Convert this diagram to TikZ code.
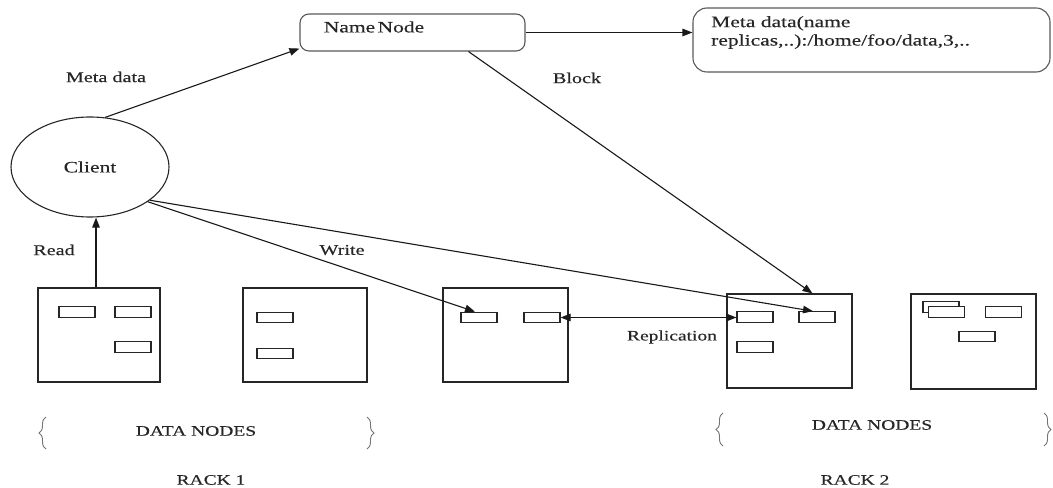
\documentclass[tikz,border=0pt]{standalone}
\usepackage{fontspec}
\setmainfont{Liberation Serif}[FakeStretch=1.35, FakeBold=0.3]
\usetikzlibrary{arrows.meta,shapes.geometric,decorations.pathreplacing}

\begin{document}
\begin{tikzpicture}[x=1bp,y=-1bp,
  ink/.style={draw=black!85, line width=1.1bp},
  server/.style={ink, rectangle, inner sep=0, minimum width=124bp, minimum height=94bp},
  blk/.style={ink, rectangle, inner sep=0, minimum width=36bp, minimum height=10.5bp, fill=white},
  rbox/.style={draw=black!65, line width=1.1bp, rounded corners=9bp, inner sep=0},
  lbl/.style={inner sep=0, text=black!85, font=\fontsize{15}{18}\selectfont},
  big/.style={inner sep=0, text=black!85, font=\fontsize{16}{19}\selectfont},
  small/.style={inner sep=0, text=black!85, font=\fontsize{14.5}{17}\selectfont},
  conn/.style={line width=1.1bp, draw=black!90, -{Triangle[length=10bp,width=7.5bp]}},
  biconn/.style={line width=1.1bp, draw=black!90, {Triangle[length=10bp,width=7.5bp]}-{Triangle[length=10bp,width=7.5bp]}},
  brc/.style={draw=black!55, line width=0.9bp, decorate, decoration={brace, amplitude=7bp}}
]
\useasboundingbox (0,0) rectangle (1053,488);

% name node and its metadata table
\node[rbox, minimum width=225bp, minimum height=37bp] (nn) at (412.5,32.5) {};
\node[big] (nntxt) at (374,27) {Name\hspace{0.15em}Node};
\node[rbox, minimum width=357bp, minimum height=64bp, rounded corners=14bp] (meta) at (871.5,40) {};
\node[big, anchor=west, align=left, font=\fontsize{16}{18.5}\selectfont] (metatxt) at (711,32.5)
  {Meta data(name\\replicas,..):/home/foo/data,3,..};

% client
\node[ink, ellipse, minimum width=158bp, minimum height=100bp, inner sep=0,
      font=\fontsize{16}{19}\selectfont, text=black!85] (client) at (90,167) {Client};

% data node servers, rack 1
\node[server, minimum width=122bp] (dn1) at (99,335) {};
\node[server] (dn2) at (305,335) {};
\node[server, minimum width=125bp] (dn3) at (505.5,335) {};
% data node servers, rack 2
\node[server, minimum width=125bp] (dn4) at (789.5,341) {};
\node[server, minimum width=125bp, minimum height=95bp] (dn5) at (973.5,341.5) {};

% blocks held by each server
\node[blk] (b11) at (77,312) {};
\node[blk] (b12) at (133,312) {};
\node[blk] (b13) at (133,347) {};
\node[blk] (b21) at (275,317.5) {};
\node[blk] (b22) at (275,353.5) {};
\node[blk] (b31) at (479,317.5) {};
\node[blk] (b32) at (542,317.5) {};
\node[blk] (b41) at (755,317) {};
\node[blk] (b42) at (817,317) {};
\node[blk] (b43) at (755,347) {};
\node[blk] (b51) at (941,307) {};
\node[blk] (b52) at (946.5,312) {};
\node[blk] (b53) at (1003.5,312) {};
\node[blk] (b54) at (977,336.5) {};

% connectors
\draw[conn] (client.73) -- ([yshift=3bp]nn.south west);
\draw[conn] (nn.east) -- (nn.east -| meta.west);
\draw[conn] ([xshift=56bp]nn.south) -- ([xshift=23bp]dn4.north);
\draw[conn] ([xshift=-3bp]dn1.north) -- ([xshift=-3bp]dn1.north |- client.south);
\draw[conn] (client.-31) -- ([xshift=-4bp]b31.north);
\draw[conn] (client.-29) -- ([xshift=-4bp]b42.north);
\draw[biconn] (b32.east) -- (b32.east -| b41.west);

% labels
\node[lbl] (lmeta) at (106,77) {Meta data};
\node[lbl] (lblock) at (577,78) {Block};
\node[lbl] (lread) at (54,250) {Read};
\node[lbl] (lwrite) at (342,250) {Write};
\node[small] (lrep) at (672,337) {Replication};

% rack groupings
\draw[brc] (46,449) -- (46,417);
\draw[brc] (367,417) -- (367,449);
\node[small] (dnl1) at (196,431) {DATA NODES};
\node[small] (rack1) at (211,480) {RACK 1};
\draw[brc] (723,446) -- (723,413);
\draw[brc] (1044,413) -- (1044,446);
\node[small] (dnl2) at (872,425) {DATA NODES};
\node[small] (rack2) at (855,480) {RACK 2};
\end{tikzpicture}
\end{document}
